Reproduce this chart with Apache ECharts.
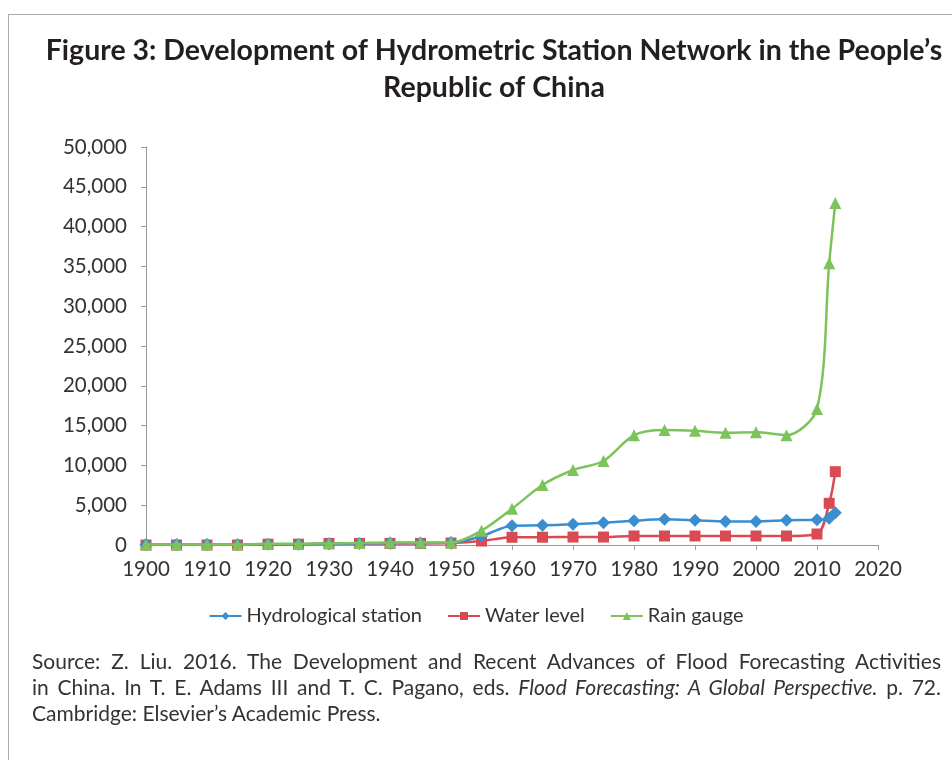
<!DOCTYPE html>
<html lang="en">
<head>
    <meta charset="UTF-8">
    <title>Hydrometric Station Network</title>
    <script src="https://cdn.jsdelivr.net/npm/echarts@6/dist/echarts.min.js"></script>
    <style>
        body { margin: 0; background: #fff; }
        #frame { position: absolute; left: 8px; top: 14px; width: 960px; height: 760px;
                 border-top: 1px solid #aaa; border-left: 1px solid #aaa; }
        #main { position: absolute; left: 0; top: 0; width: 952px; height: 760px; }
        #source { position: absolute; left: 32px; top: 648px; width: 909px;
                  font-family: Lato, sans-serif; font-size: 21px; line-height: 26px;
                  color: #333; }
        #source div { text-align: justify; text-align-last: justify; white-space: nowrap; }
        #source div.last { text-align-last: left; }
    </style>
</head>
<body>
    <div id="frame"></div>
    <div id="main"></div>
    <div id="source">
        <div>Source: Z. Liu. 2016. The Development and Recent Advances of Flood Forecasting Activities</div>
        <div>in China. In T. E. Adams III and T. C. Pagano, eds. <i>Flood Forecasting: A Global Perspective.</i> p. 72.</div>
        <div class="last">Cambridge: Elsevier’s Academic Press.</div>
    </div>
<script>
    // years of the observations
    var years = [1900, 1905, 1910, 1915, 1920, 1925, 1930, 1935, 1940, 1945, 1950,
                 1955, 1960, 1965, 1970, 1975, 1980, 1985, 1990, 1995, 2000, 2005, 2010, 2012, 2013];
    var hydroStation = [50, 50, 50, 50, 100, 100, 150, 200, 250, 250, 300,
                        1100, 2430, 2470, 2600, 2800, 3050, 3220, 3100, 2950, 2950, 3100, 3180, 3350, 4060];
    var waterLevel = [0, 0, 0, 0, 100, 100, 200, 200, 200, 200, 250,
                      500, 970, 980, 1000, 1000, 1130, 1130, 1130, 1130, 1130, 1130, 1380, 5240, 9210];
    var rainGauge = [50, 50, 50, 50, 150, 150, 200, 250, 300, 300, 300,
                     1800, 4550, 7540, 9420, 10550, 13800, 14450, 14350, 14100, 14150, 13800, 17100, 35400, 42950];
    var seriesNames = ['Hydrological station', 'Water level', 'Rain gauge'];

    function pairs(vals) {
        return years.map(function (y, i) { return [y, vals[i]]; });
    }

    var chart = echarts.init(document.getElementById('main'));
    chart.setOption({
        animation: false,
        textStyle: { fontFamily: 'Lato, sans-serif' },
        title: {
            text: 'Figure 3: Development of Hydrometric Station Network in the People’s\nRepublic of China',
            left: 489,
            textAlign: 'center',
            top: 27,
            textStyle: { fontSize: 28.5, fontWeight: 'bold', color: '#231f20', lineHeight: 37, fontFamily: 'Lato, sans-serif' }
        },
        legend: {
            data: seriesNames,
            left: 'center',
            top: 601,
            itemWidth: 32,
            itemHeight: 10,
            itemGap: 25,
            textStyle: { fontSize: 20, color: '#333' }
        },
        grid: { left: 146, right: 74, top: 147, bottom: 215 },
        xAxis: {
            type: 'value',
            min: 1900,
            max: 2020,
            interval: 10,
            axisLine: { lineStyle: { color: '#999' } },
            axisTick: { show: true, length: 5, lineStyle: { color: '#999' } },
            axisLabel: { fontSize: 20.5, color: '#333', margin: 14, formatter: function (v) { return String(v); } },
            splitLine: { show: false }
        },
        yAxis: {
            type: 'value',
            min: 0,
            max: 50000,
            interval: 5000,
            axisLine: { show: true, lineStyle: { color: '#999' } },
            axisTick: { show: true, length: 5, lineStyle: { color: '#999' } },
            axisLabel: { fontSize: 20.5, color: '#333', margin: 19,
                formatter: function (v) { return v.toLocaleString('en-US'); } },
            splitLine: { show: false }
        },
        series: [
            {
                name: seriesNames[0], type: 'line', smooth: 0.3,
                data: pairs(hydroStation),
                symbol: 'diamond', symbolSize: 13,
                itemStyle: { color: '#3a8ecf' },
                lineStyle: { width: 2.5, color: '#3a8ecf' },
                z: 3
            },
            {
                name: seriesNames[1], type: 'line', smooth: 0.3,
                data: pairs(waterLevel),
                symbol: 'rect', symbolSize: 11,
                itemStyle: { color: '#d94a53' },
                lineStyle: { width: 2.5, color: '#d94a53' },
                z: 2
            },
            {
                name: seriesNames[2], type: 'line', smooth: 0.3,
                data: pairs(rainGauge),
                symbol: 'triangle', symbolSize: 12,
                itemStyle: { color: '#7cc35a' },
                lineStyle: { width: 2.5, color: '#7cc35a' },
                z: 4
            }
        ]
    });
</script>
</body>
</html>
